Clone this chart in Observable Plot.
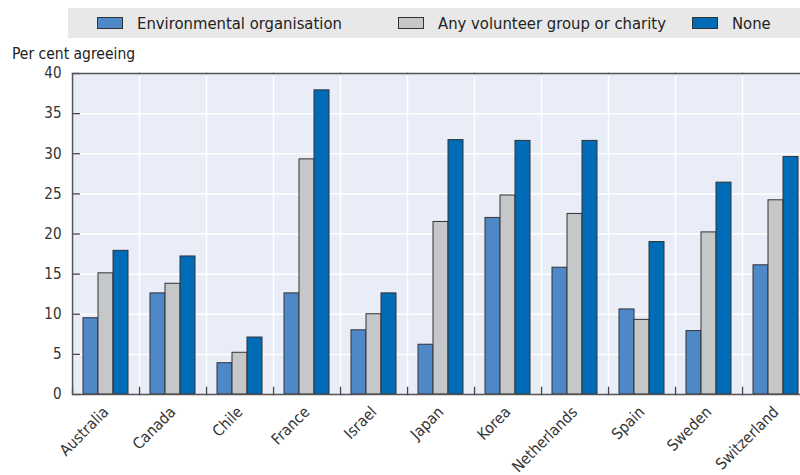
<!DOCTYPE html>
<html><head><meta charset="utf-8">
<script src="https://cdn.jsdelivr.net/npm/d3@7"></script>
<script src="https://cdn.jsdelivr.net/npm/@observablehq/plot@0.6"></script>
<style>
body{margin:0;width:800px;height:475px;overflow:hidden;background:#fff;font-family:"Liberation Sans Narrow","DejaVu Sans Condensed",sans-serif;}
#wrap{position:relative;width:820px;height:475px;}
#legend{position:absolute;left:68px;top:8px;width:760px;height:30px;background:#e8e8e8;}
.item{position:absolute;top:0;height:30px;display:flex;align-items:center;font-size:16.5px;color:#222;white-space:nowrap;}
.sw{width:26px;height:12px;border:1px solid #333;margin-right:14px;box-sizing:border-box;}
#ylab{position:absolute;left:12px;top:45px;font-size:15.5px;color:#222;}
#chart{position:absolute;left:0;top:40px;}
</style>
</head><body>
<div id="wrap">
  <div id="legend"></div>
  <div id="ylab">Per cent agreeing</div>
  <div id="chart"></div>
</div>
<script>
const countries = ["Australia","Canada","Chile","France","Israel","Japan","Korea","Netherlands","Spain","Sweden","Switzerland"];
const series = ["Environmental organisation","Any volunteer group or charity","None"];
const environmental = [9.5,12.6,3.9,12.6,8.0,6.2,22.0,15.8,10.6,7.9,16.1];
const anyVolunteer = [15.1,13.8,5.2,29.3,10.0,21.5,24.8,22.5,9.3,20.2,24.2];
const none = [17.9,17.2,7.1,37.9,12.6,31.7,31.6,31.6,19.0,26.4,29.6];
const yTicks = [0,5,10,15,20,25,30,35,40];
const colors = ["#4f88c8","#c6c7c9","#006bb6"];

const valuesBySeries = [environmental, anyVolunteer, none];
const data = [];
countries.forEach((c, i) => series.forEach((s, j) => data.push({country: c, series: s, value: valuesBySeries[j][i]})));
const firstRows = data.filter(d => d.series === series[0]);
const yTickRows = yTicks.map(v => ({country: countries[0], series: series[0], value: v}));

// legend
const legendPos = [29, 330, 624];
const legend = document.getElementById("legend");
series.forEach((s, j) => {
  const it = document.createElement("div");
  it.className = "item";
  it.style.left = legendPos[j] + "px";
  const sw = document.createElement("div");
  sw.className = "sw";
  sw.style.background = colors[j];
  it.appendChild(sw);
  it.appendChild(document.createTextNode(s));
  legend.appendChild(it);
});

const paddingOuter = 0.7;
const step = (744 / countries.length) / (series.length + 2 * paddingOuter);
const bandStart = paddingOuter * step;
const bandCenter = bandStart + step / 2;
const chart = Plot.plot({
  width: 820,
  height: 435,
  marginTop: 33,
  marginBottom: 81,
  marginLeft: 68,
  marginRight: 8,
  style: {fontFamily: '"Liberation Sans Narrow","DejaVu Sans Condensed",sans-serif', fontSize: "15px", color: "#333", background: "transparent"},
  fx: {domain: countries, padding: 0, label: null, axis: null},
  x: {domain: series, paddingInner: 0, paddingOuter, axis: null},
  y: {domain: [0, 40], label: null},
  color: {domain: series, range: colors},
  marks: [
    Plot.frame({fill: "#e9edf7", stroke: null}),
    Plot.gridY(yTicks.slice(1, -1), {stroke: "white", strokeOpacity: 1, strokeWidth: 1.5}),
    Plot.frame({anchor: "left", stroke: "white", strokeWidth: 1.5, strokeOpacity: 1}),
    Plot.barY(data, {fx: "country", x: "series", y: "value", fill: "series", stroke: "#333", strokeWidth: 1}),
    Plot.ruleX(firstRows, {fx: "country", x: "series", dx: -bandCenter, y1: 0, y2: 0.9, stroke: "#444", strokeWidth: 1.3}),
    Plot.tickY(yTickRows, {fx: "country", x: "series", y: "value", dx: -bandStart, insetRight: step - 8, stroke: "#444", strokeWidth: 1.3}),
    Plot.frame({anchor: "top", stroke: "#555", strokeWidth: 1.5}),
    Plot.frame({anchor: "bottom", stroke: "#555", strokeWidth: 1.5}),
    Plot.ruleX([firstRows[0]], {fx: "country", x: "series", dx: -bandCenter, stroke: "#555", strokeWidth: 1.5}),
    Plot.axisY(yTicks, {tickSize: 0, tickPadding: 11, label: null, fontSize: 15}),
    Plot.axisFx({anchor: "bottom", tickRotate: -45, tickSize: 0, tickPadding: 15, label: null, fontSize: 15.5})
  ]
});
document.getElementById("chart").appendChild(chart);
</script>
</body></html>
